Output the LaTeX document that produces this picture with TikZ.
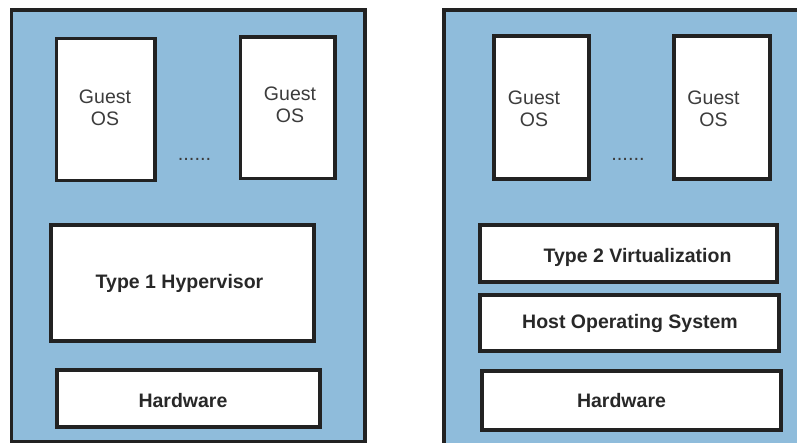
\documentclass[tikz,border=0pt]{standalone}
\usepackage{fontspec}
\setmainfont{Liberation Sans}
\definecolor{panelblue}{RGB}{143,188,219}
\definecolor{edgecol}{RGB}{34,34,34}
\definecolor{guesttxt}{RGB}{60,60,60}
\definecolor{boldtxt}{RGB}{40,40,40}
\tikzset{
  panel/.style={draw=edgecol, line width=3.4pt, fill=panelblue, inner sep=0pt, anchor=center},
  box/.style={draw=edgecol, line width=3.2pt, fill=white, inner sep=0pt, anchor=center},
  guestlabel/.style={inner sep=0pt, anchor=base, align=center, text=guesttxt, font=\fontsize{19.5}{22}\selectfont},
  layerlabel/.style={inner sep=0pt, anchor=base, text=boldtxt, font=\fontsize{19.5}{22}\selectfont\bfseries},
  dotslabel/.style={inner sep=0pt, anchor=base, text=guesttxt, font=\fontsize{20}{22}\selectfont},
}
\newcommand{\boxat}[5]{% name, x1, y1, x2, y2
  \node[box, minimum width={(#4-#2)*1pt}, minimum height={(#5-#3)*1pt}] (#1) at ({(#2+#4)/2},{(#3+#5)/2}) {};}
\begin{document}
\begin{tikzpicture}[x=1pt,y=-1pt]
\useasboundingbox (0,0) rectangle (797,443);
\clip (0,0) rectangle (797,443);
% left panel
\node[panel, minimum width=353.5pt, minimum height=431.5pt] (lpanel) at (188.25,225.75) {};
% right panel (clipped on right and bottom)
\node[panel, minimum width=366pt, minimum height=444pt] (rpanel) at (627,232) {};

% left panel boxes
\boxat{lg1}{56.5}{38.5}{155}{180.5}
\boxat{lg2}{240.5}{37}{335}{178.5}
\boxat{lhyp}{51}{225}{314}{341}
\boxat{lhw}{57}{370}{320}{427}
% right panel boxes
\boxat{rg1}{494}{36}{589}{179}
\boxat{rg2}{674}{36}{770}{179}
\boxat{rt2}{480}{225}{777}{282}
\boxat{rhost}{480}{295}{779}{351}
\boxat{rhw}{482}{371}{781}{430}

% labels
\node[guestlabel] (lg1t) at (105,126) {Guest\\OS};
\node[guestlabel] (lg2t) at (290,123) {Guest\\OS};
\node[guestlabel] (rg1t) at (534,127) {Guest\\OS};
\node[guestlabel] (rg2t) at (713.5,127) {Guest\\OS};
\node[dotslabel] (ldots) at (194.5,160.5) {......};
\node[dotslabel] (rdots) at (628,160.5) {......};
\node[layerlabel] (lhypt) at (179.5,289) {Type 1 Hypervisor};
\node[layerlabel] (lhwt) at (183,407) {Hardware};
\node[layerlabel] (rt2t) at (637.5,263) {Type 2 Virtualization};
\node[layerlabel] (rhostt) at (630,328) {Host Operating System};
\node[layerlabel] (rhwt) at (621.5,407) {Hardware};
\end{tikzpicture}
\end{document}
